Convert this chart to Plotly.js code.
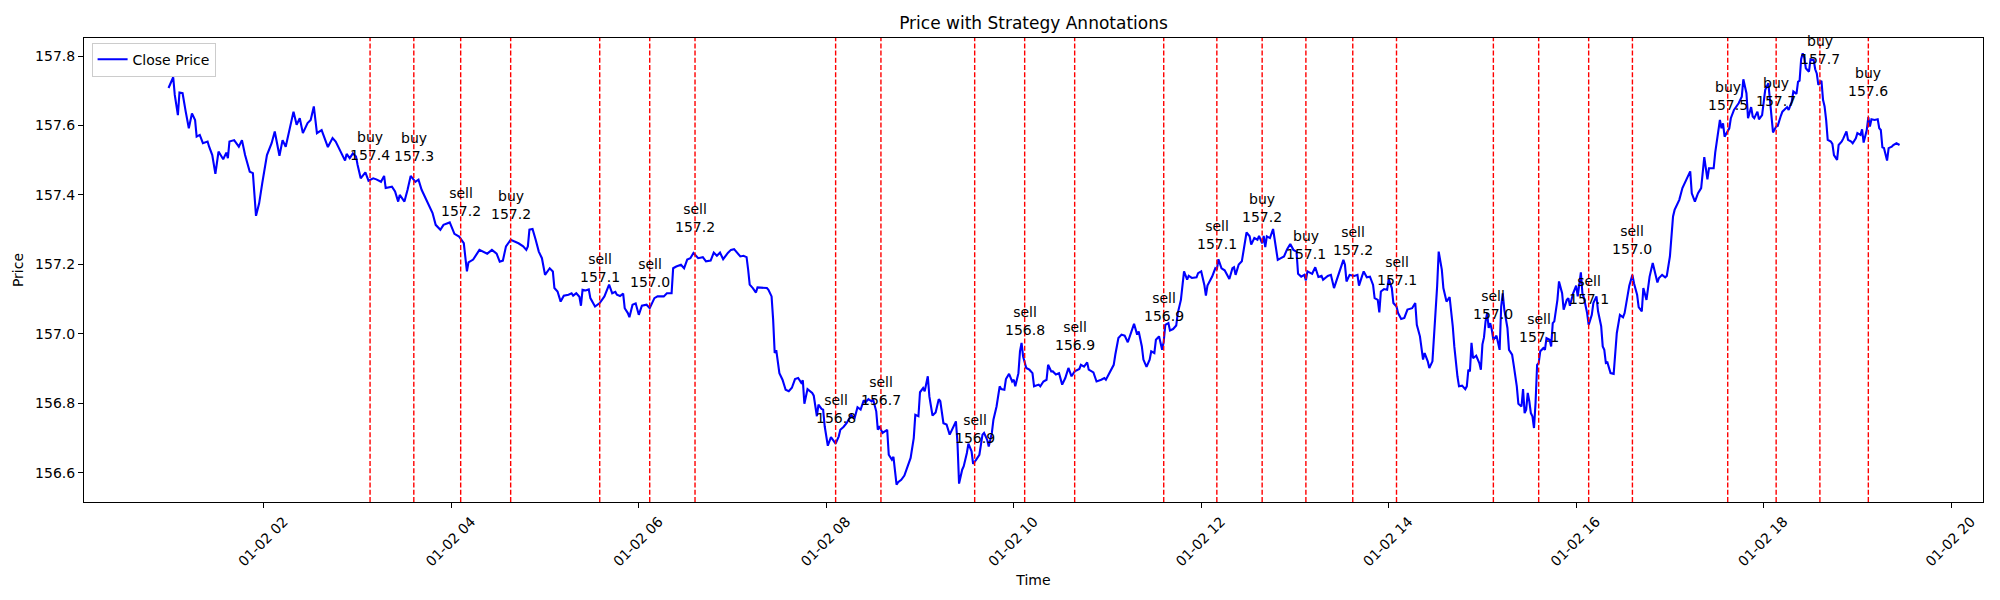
<!DOCTYPE html>
<html>
<head>
<meta charset="utf-8">
<script src="https://cdn.plot.ly/plotly-3.0.1.min.js"></script>
<style>
  body { margin: 0; background: #fff; }
  #myGraph { width: 2000px; height: 600px; }
</style>
</head>
<body>
<div id="myGraph"></div>
<script>
// minutes after midnight on 01-02
let minutes = [
  59, 62, 63, 65, 66, 68, 70, 72, 74, 76, 77, 79, 81, 84, 85, 87, 89, 91, 94, 96, 97, 98,
  101, 104, 106, 108, 111, 113, 115, 117, 119, 122, 125, 127, 130, 132, 134, 136, 139, 141,
  143, 145, 148, 150, 152, 154, 157, 161, 164, 166, 169, 172, 173, 175, 177, 179, 180, 182,
  185, 187, 190, 192, 195, 197, 198, 202, 204, 206, 207, 210, 212, 214, 217, 219, 221, 223,
  225, 228, 230, 233, 235, 237, 239, 242, 245, 248, 250, 251, 254, 258, 261, 263, 266, 269,
  271, 273, 275, 278, 283, 286, 288, 289, 290, 292, 294, 296, 298, 300, 303, 305, 306, 308,
  310, 312, 315, 317, 318, 320, 322, 323, 324, 326, 328, 329, 332, 335, 338, 341, 343, 345,
  346, 348, 350, 351, 353, 354, 356, 358, 360, 362, 365, 367, 370, 372, 376, 378, 381, 382,
  384, 387, 389, 391, 393, 395, 398, 401, 403, 406, 408, 410, 412, 414, 417, 419, 421, 423,
  425, 427, 429, 430, 431, 433, 435, 436, 439, 442, 443, 445, 446, 447, 448, 449, 450, 452,
  454, 456, 458, 460, 462, 464, 465, 466, 468, 471, 472, 474, 475, 477, 478, 479, 481, 483,
  484, 486, 488, 489, 491, 493, 496, 498, 500, 502, 504, 505, 507, 509, 510, 512, 513, 514,
  516, 519, 520, 522, 523, 525, 526, 528, 530, 532, 534, 536, 537, 539, 540, 542, 543, 545,
  546, 548, 550, 552, 553, 555, 557, 559, 561, 563, 564, 565, 567, 568, 570, 571, 573, 574,
  576, 578, 580, 581, 583, 584, 586, 587, 589, 591, 592, 594, 595, 597, 599, 600, 601, 603,
  604, 605, 606, 608, 610, 612, 613, 616, 617, 619, 621, 622, 624, 625, 627, 629, 631, 633,
  635, 637, 639, 642, 643, 645, 647, 648, 651, 653, 656, 658, 659, 661, 664, 665, 667, 669,
  671, 673, 675, 677, 679, 680, 682, 683, 685, 687, 688, 690, 691, 693, 695, 696, 697, 699,
  700, 702, 704, 705, 707, 708, 709, 711, 712, 714, 717, 718, 720, 722, 723, 724, 727, 729,
  730, 731, 733, 735, 738, 740, 741, 742, 744, 746, 747, 749, 751, 752, 754, 756, 757, 759,
  760, 761, 762, 764, 766, 768, 769, 771, 773, 775, 777, 779, 781, 782, 784, 786, 787, 788,
  791, 793, 795, 797, 798, 801, 803, 805, 807, 809, 811, 812, 813, 815, 818, 820, 821, 823,
  824, 826, 828, 830, 831, 833, 834, 835, 837, 839, 840, 842, 843, 845, 846, 848, 850, 852,
  855, 857, 858, 860, 862, 863, 865, 866, 868, 871, 872, 874, 875, 877, 879, 881, 882, 884,
  885, 887, 889, 890, 891, 892, 893, 894, 896, 898, 899, 900, 901, 902, 903, 904, 905, 906,
  907, 909, 910, 911, 912, 913, 914, 916, 917, 919, 920, 922, 923, 925, 926, 927, 928, 929,
  930, 931, 932, 933, 934, 935, 936, 937, 939, 940, 941, 943, 944, 945, 946, 948, 949, 951,
  952, 954, 955, 956, 958, 960, 961, 963, 964, 965, 967, 968, 970, 971, 973, 974, 976, 977,
  978, 979, 980, 982, 984, 985, 986, 988, 990, 991, 993, 994, 996, 997, 999, 1000, 1002, 1003,
  1005, 1006, 1007, 1009, 1010, 1012, 1013, 1015, 1017, 1018, 1020, 1021, 1022, 1023, 1024,
  1026, 1028, 1030, 1033, 1034, 1036, 1038, 1040, 1042, 1044, 1045, 1048, 1049, 1051, 1052,
  1053, 1054, 1055, 1057, 1058, 1059, 1061, 1064, 1066, 1067, 1069, 1070, 1072, 1073, 1074,
  1076, 1077, 1079, 1080, 1081, 1083, 1084, 1085, 1086, 1088, 1089, 1091, 1092, 1095, 1096,
  1098, 1099, 1101, 1102, 1103, 1104, 1105, 1106, 1107, 1109, 1110, 1112, 1113, 1114, 1115,
  1117, 1118, 1119, 1120, 1121, 1123, 1124, 1125, 1127, 1128, 1130, 1131, 1133, 1134, 1136,
  1137, 1139, 1140, 1142, 1143, 1144, 1146, 1147, 1148, 1149, 1151, 1153, 1154, 1155, 1156,
  1157, 1159, 1160, 1162, 1163, 1165, 1167
];

let closePrice = [
  157.708, 157.739, 157.688, 157.630, 157.695, 157.693, 157.640, 157.592, 157.635, 157.616, 157.568,
  157.573, 157.549, 157.554, 157.539, 157.515, 157.461, 157.525, 157.503, 157.522, 157.506, 157.554,
  157.558, 157.539, 157.558, 157.515, 157.467, 157.463, 157.340, 157.376, 157.434, 157.515, 157.549,
  157.583, 157.513, 157.558, 157.539, 157.583, 157.640, 157.602, 157.621, 157.578, 157.607, 157.616,
  157.655, 157.578, 157.587, 157.538, 157.564, 157.554, 157.525, 157.499, 157.518, 157.506, 157.520,
  157.511, 157.487, 157.448, 157.465, 157.441, 157.448, 157.445, 157.438, 157.455, 157.420, 157.424,
  157.410, 157.381, 157.400, 157.381, 157.415, 157.455, 157.438, 157.444, 157.415, 157.396, 157.381,
  157.348, 157.314, 157.300, 157.314, 157.317, 157.321, 157.288, 157.280, 157.261, 157.180, 157.206,
  157.214, 157.242, 157.234, 157.231, 157.242, 157.231, 157.208, 157.211, 157.252, 157.271, 157.261,
  157.252, 157.242, 157.252, 157.300, 157.302, 157.271, 157.237, 157.218, 157.170, 157.189, 157.180,
  157.132, 157.122, 157.093, 157.110, 157.113, 157.117, 157.110, 157.117, 157.107, 157.081, 157.127,
  157.125, 157.128, 157.103, 157.079, 157.089, 157.108, 157.142, 157.117, 157.121, 157.113, 157.109,
  157.116, 157.074, 157.060, 157.048, 157.084, 157.088, 157.055, 157.081, 157.084, 157.074, 157.103,
  157.108, 157.108, 157.117, 157.117, 157.189, 157.194, 157.199, 157.189, 157.214, 157.218, 157.233,
  157.218, 157.221, 157.209, 157.211, 157.234, 157.225, 157.234, 157.215, 157.233, 157.242, 157.244,
  157.233, 157.223, 157.225, 157.221, 157.185, 157.142, 157.132, 157.119, 157.134, 157.132, 157.132,
  157.127, 157.108, 157.041, 156.945, 156.953, 156.921, 156.887, 156.868, 156.839, 156.835, 156.845,
  156.870, 156.873, 156.859, 156.866, 156.799, 156.841, 156.830, 156.822, 156.763, 156.796, 156.784,
  156.782, 156.734, 156.678, 156.703, 156.696, 156.684, 156.705, 156.724, 156.732, 156.743, 156.767,
  156.755, 156.789, 156.782, 156.809, 156.803, 156.812, 156.806, 156.811, 156.777, 156.724, 156.734,
  156.715, 156.724, 156.652, 156.638, 156.646, 156.566, 156.573, 156.580, 156.592, 156.621, 156.643,
  156.700, 156.767, 156.763, 156.832, 156.844, 156.835, 156.878, 156.820, 156.765, 156.774, 156.812,
  156.806, 156.743, 156.739, 156.710, 156.729, 156.748, 156.686, 156.569, 156.609, 156.619, 156.657,
  156.684, 156.662, 156.626, 156.638, 156.652, 156.710, 156.715, 156.695, 156.676, 156.715, 156.753,
  156.791, 156.849, 156.841, 156.839, 156.870, 156.885, 156.863, 156.868, 156.849, 156.887, 156.950,
  156.974, 156.935, 156.902, 156.897, 156.887, 156.849, 156.854, 156.849, 156.863, 156.868, 156.911,
  156.892, 156.892, 156.883, 156.887, 156.854, 156.873, 156.902, 156.878, 156.892, 156.899, 156.911,
  156.906, 156.918, 156.897, 156.889, 156.863, 156.868, 156.873, 156.868, 156.887, 156.911, 156.940,
  156.988, 156.998, 156.995, 156.976, 157.002, 157.029, 156.998, 157.007, 156.964, 156.926, 156.905,
  156.926, 156.950, 156.945, 156.983, 156.993, 156.954, 156.978, 157.026, 157.031, 157.010, 157.014,
  157.024, 157.060, 157.098, 157.141, 157.180, 157.156, 157.167, 157.161, 157.163, 157.175, 157.180,
  157.141, 157.110, 157.139, 157.165, 157.189, 157.185, 157.215, 157.189, 157.183, 157.158, 157.189,
  157.192, 157.170, 157.200, 157.209, 157.233, 157.292, 157.281, 157.257, 157.276, 157.271, 157.282,
  157.261, 157.282, 157.250, 157.281, 157.276, 157.302, 157.247, 157.213, 157.218, 157.223, 157.244,
  157.259, 157.242, 157.237, 157.173, 157.165, 157.170, 157.154, 157.180, 157.173, 157.192, 157.164,
  157.167, 157.156, 157.167, 157.170, 157.132, 157.161, 157.185, 157.213, 157.199, 157.151, 157.170,
  157.167, 157.170, 157.139, 157.167, 157.180, 157.163, 157.165, 157.141, 157.103, 157.098, 157.062,
  157.122, 157.129, 157.127, 157.158, 157.132, 157.089, 157.079, 157.060, 157.043, 157.046, 157.070,
  157.074, 157.089, 157.026, 156.993, 156.926, 156.945, 156.921, 156.902, 156.921, 157.137, 157.237,
  157.185, 157.132, 157.093, 157.106, 157.022, 156.964, 156.878, 156.849, 156.851, 156.841, 156.849,
  156.897, 156.892, 156.974, 156.930, 156.937, 156.916, 156.897, 156.970, 156.990, 157.036, 157.060,
  157.017, 157.031, 157.012, 156.983, 156.995, 156.978, 156.954, 157.079, 157.117, 157.070, 157.017,
  156.954, 156.940, 156.911, 156.849, 156.799, 156.791, 156.841, 156.772, 156.782, 156.830, 156.806,
  156.772, 156.763, 156.729, 156.801, 156.911, 156.916, 156.950, 156.959, 156.954, 156.988, 156.983,
  156.964, 157.031, 157.036, 157.098, 157.151, 157.117, 157.070, 157.098, 157.103, 157.081, 157.116,
  157.139, 157.108, 157.177, 157.117, 157.103, 157.060, 157.026, 157.055, 157.089, 157.108, 157.065,
  157.022, 156.964, 156.954, 156.916, 156.918, 156.887, 156.885, 156.935, 157.002, 157.055, 157.048,
  157.060, 157.113, 157.139, 157.170, 157.146, 157.113, 157.077, 157.065, 157.132, 157.098, 157.135,
  157.165, 157.204, 157.185, 157.148, 157.161, 157.170, 157.163, 157.167, 157.223, 157.281, 157.338,
  157.357, 157.367, 157.386, 157.420, 157.440, 157.468, 157.405, 157.381, 157.405, 157.420, 157.509,
  157.445, 157.477, 157.477, 157.522, 157.578, 157.616, 157.592, 157.606, 157.568, 157.583, 157.592,
  157.621, 157.645, 157.664, 157.683, 157.733, 157.693, 157.621, 157.653, 157.626, 157.621, 157.640,
  157.618, 157.630, 157.674, 157.703, 157.722, 157.669, 157.616, 157.580, 157.597, 157.599, 157.628,
  157.640, 157.653, 157.645, 157.669, 157.698, 157.691, 157.726, 157.729, 157.791, 157.808, 157.796,
  157.765, 157.755, 157.791, 157.789, 157.762, 157.750, 157.717, 157.729, 157.674, 157.655, 157.616,
  157.559, 157.554, 157.547, 157.515, 157.501, 157.544, 157.554, 157.563, 157.583, 157.559, 157.554,
  157.549, 157.563, 157.578, 157.573, 157.589, 157.551, 157.587, 157.624, 157.597, 157.618, 157.616,
  157.618, 157.592, 157.587, 157.537, 157.535, 157.499, 157.535, 157.539, 157.544, 157.549, 157.544
];

// strategy signals: minute of day, side, shown price
let signalMinutes = [188, 216, 246, 278, 335, 367, 396, 486, 515, 575, 607, 639, 696,
                     730, 759, 787, 817, 845, 907, 936, 968, 996, 1057, 1088, 1116, 1147];
let signalSide = ['buy', 'buy', 'sell', 'buy', 'sell', 'sell', 'sell', 'sell', 'sell', 'sell',
                  'sell', 'sell', 'sell', 'sell', 'buy', 'buy', 'sell', 'sell', 'sell', 'sell',
                  'sell', 'sell', 'buy', 'buy', 'buy', 'buy'];
let signalLabel = ['157.4', '157.3', '157.2', '157.2', '157.1', '157.0', '157.2', '156.8',
                   '156.7', '156.9', '156.8', '156.9', '156.9', '157.1', '157.2', '157.1',
                   '157.2', '157.1', '157.0', '157.1', '157.1', '157.0', '157.5', '157.7',
                   '157.7', '157.6'];

let yTicks = [156.6, 156.8, 157.0, 157.2, 157.4, 157.6, 157.8];

function toTime(m) {
    let h = Math.floor(m / 60);
    let mm = Math.round(m % 60);
    return '2024-01-02 ' + String(h).padStart(2, '0') + ':' + String(mm).padStart(2, '0');
}

function priceAt(m) {
    let best = 0;
    for (let i = 1; i < minutes.length; i++) {
        if (Math.abs(minutes[i] - m) < Math.abs(minutes[best] - m)) best = i;
    }
    return closePrice[best];
}

let font = 'DejaVu Sans, sans-serif';

let trace1 = {
    type: 'scatter',
    mode: 'lines',
    name: 'Close Price',
    x: minutes.map(toTime),
    y: closePrice,
    line: { color: 'blue', width: 2.1 }
};

let shapes = signalMinutes.map(m => ({
    type: 'line',
    xref: 'x', yref: 'paper',
    x0: toTime(m), x1: toTime(m),
    y0: 0, y1: 1,
    line: { color: 'red', width: 1.4, dash: '5px,2.2px' }
}));

let annotations = signalMinutes.map((m, i) => ({
    x: toTime(m),
    y: priceAt(m),
    xref: 'x', yref: 'y',
    text: signalSide[i] + '<br>' + signalLabel[i],
    showarrow: false,
    xanchor: 'center',
    yanchor: 'bottom',
    yshift: 16,
    align: 'center',
    font: { family: font, size: 14, color: 'black' }
}));

let layout = {
    width: 2000,
    height: 600,
    paper_bgcolor: 'white',
    plot_bgcolor: 'white',
    font: { family: font, size: 14, color: 'black' },
    margin: { l: 84, r: 17, t: 38, b: 98 },
    title: {
        text: 'Price with Strategy Annotations',
        font: { family: font, size: 17, color: 'black' },
        x: 0.5, xref: 'paper',
        y: 0.962, yref: 'container', yanchor: 'middle'
    },
    xaxis: {
        type: 'date',
        range: ['2024-01-02 00:04:54', '2024-01-02 20:20:24'],
        tick0: '2024-01-02 00:00',
        dtick: 7200000,
        tickformat: '%m-%d %H',
        tickangle: -45,
        ticks: 'outside',
        ticklen: 5,
        tickcolor: 'black',
        ticklabelshift: 20,
        showgrid: false,
        zeroline: false,
        showline: true,
        mirror: true,
        linecolor: 'black',
        linewidth: 1,
        tickfont: { family: font, size: 14, color: 'black' },
        title: { text: 'Time', font: { family: font, size: 14, color: 'black' }, standoff: 6 }
    },
    yaxis: {
        range: [156.516, 157.852],
        tickvals: yTicks,
        ticktext: yTicks.map(v => v.toFixed(1)),
        ticks: 'outside',
        ticklen: 5,
        tickcolor: 'black',
        showgrid: false,
        zeroline: false,
        showline: true,
        mirror: true,
        linecolor: 'black',
        linewidth: 1,
        tickfont: { family: font, size: 14, color: 'black' },
        title: { text: 'Price', font: { family: font, size: 14, color: 'black' }, standoff: 8 }
    },
    showlegend: true,
    legend: {
        x: 0.004, y: 0.99,
        xanchor: 'left', yanchor: 'top',
        bgcolor: 'rgba(255,255,255,0.8)',
        bordercolor: '#cccccc',
        borderwidth: 1,
        font: { family: font, size: 14, color: 'black' }
    },
    shapes: shapes,
    annotations: annotations
};

Plotly.newPlot('myGraph', [trace1], layout, { displayModeBar: false, staticPlot: true });
</script>
</body>
</html>
